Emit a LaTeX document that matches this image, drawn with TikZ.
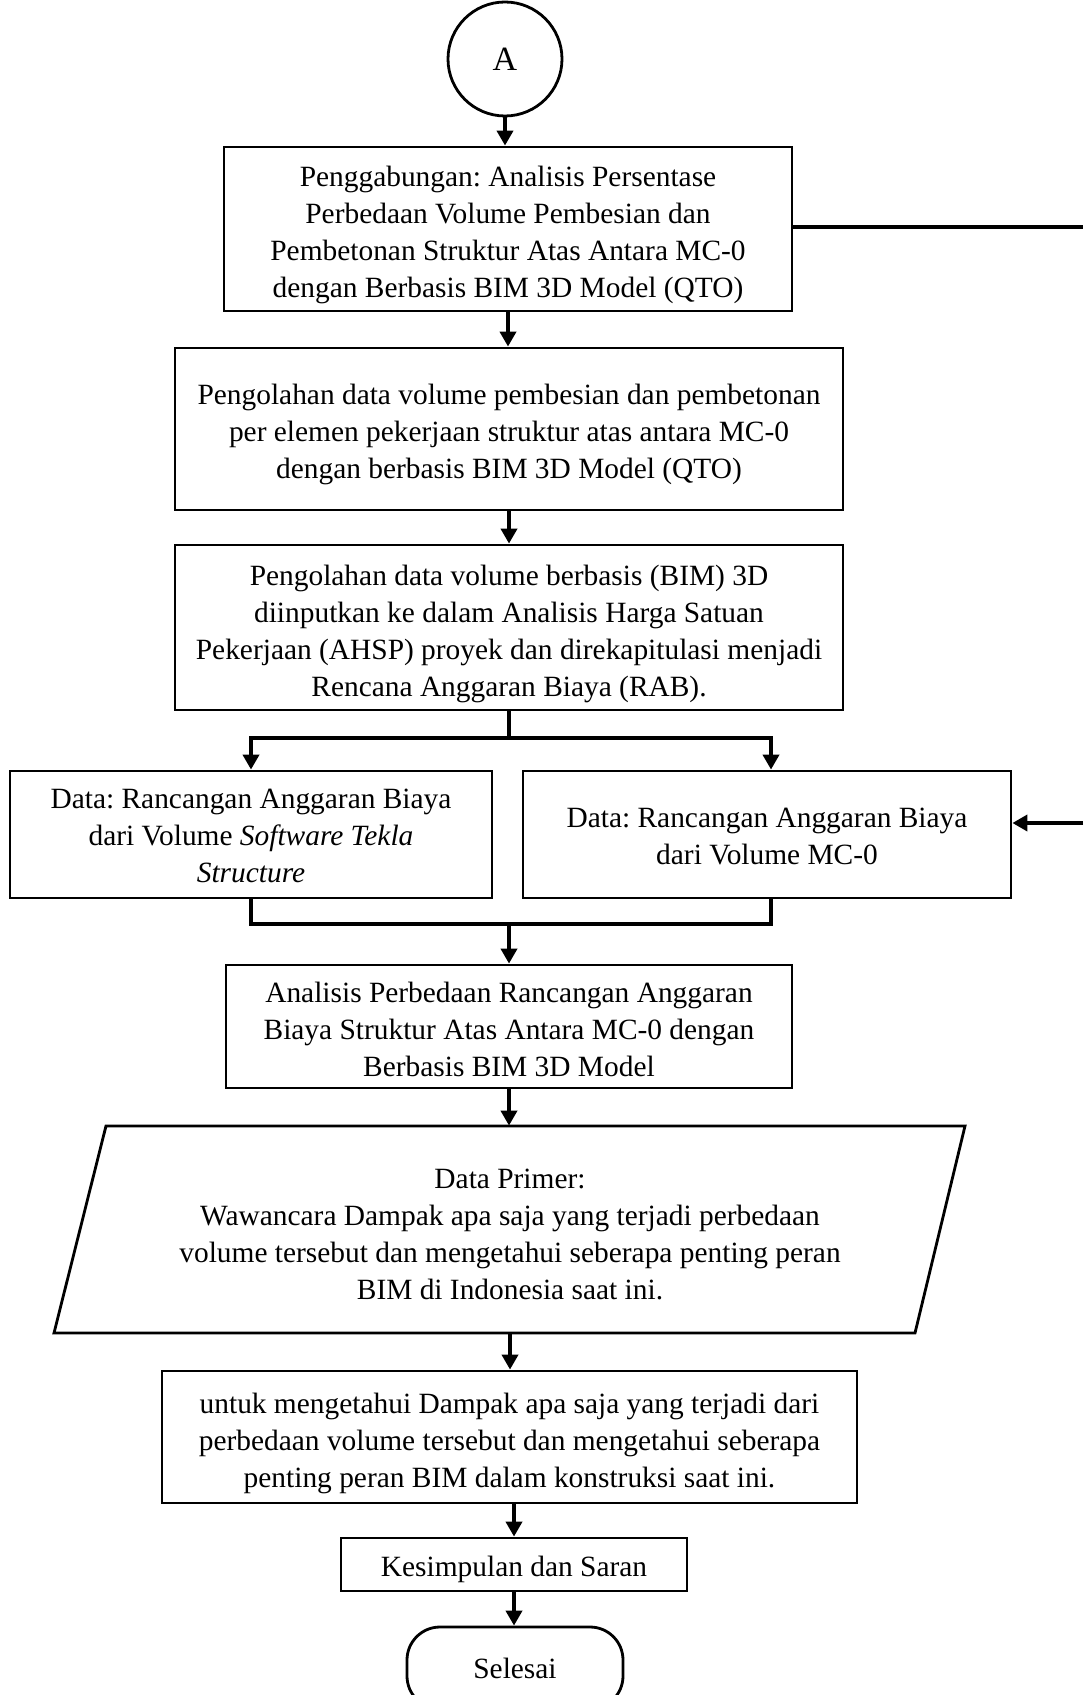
\documentclass[tikz,border=0pt]{standalone}
\usepackage{fontspec}
\setmainfont{Liberation Serif}
\usetikzlibrary{arrows.meta}
\frenchspacing
% centred block of lines, set a little below the middle of its box
\newcommand\lowtext[2][2.8pt]{\raisebox{-#1}[\height][\depth]{\begin{tabular}{@{}c@{}}#2\end{tabular}}}
\begin{document}
\begin{tikzpicture}[x=0.5pt,y=-0.5pt,
  every node/.style={font=\fontsize{14.7}{18.5}\selectfont, inner sep=0pt},
  box/.style={draw, line width=1.4pt, rectangle},
  conn/.style={line width=1.9pt},
  arr/.style={conn, -{Triangle[length=7.5pt,width=8pt]}},
]
\useasboundingbox (0,0) rectangle (1083,1695);
\clip (0,0) rectangle (1083,1695);

% connector circle
\node[draw, circle, line width=1.4pt, minimum size=57pt, font=\fontsize{17}{20}\selectfont] (A) at (505,59) {A};

% process boxes
\node[box, minimum width=284pt, minimum height=82pt] (b1) at (508,229)
  {\lowtext{Penggabungan: Analisis Persentase\\Perbedaan Volume Pembesian dan\\Pembetonan Struktur Atas Antara MC-0\\dengan Berbasis BIM 3D Model (QTO)}};
\node[box, minimum width=334pt, minimum height=81pt] (b2) at (509,429)
  {\lowtext{Pengolahan data volume pembesian dan pembetonan\\per elemen pekerjaan struktur atas antara MC-0\\dengan berbasis BIM 3D Model (QTO)}};
\node[box, minimum width=334pt, minimum height=82.5pt] (b3) at (509,627.5)
  {\lowtext{Pengolahan data volume berbasis (BIM) 3D\\diinputkan ke dalam Analisis Harga Satuan\\Pekerjaan (AHSP) proyek dan direkapitulasi menjadi\\Rencana Anggaran Biaya (RAB).}};
\node[box, minimum width=241pt, minimum height=63.5pt] (b4) at (251,834.5)
  {\lowtext[1.8pt]{Data: Rancangan Anggaran Biaya\\dari Volume \textit{Software Tekla}\\\textit{Structure}}};
\node[box, minimum width=244pt, minimum height=63.5pt] (b5) at (767,834.5)
  {\lowtext[1.8pt]{Data: Rancangan Anggaran Biaya\\dari Volume MC-0}};
\node[box, minimum width=283pt, minimum height=61.5pt] (b6) at (509,1026.5)
  {\lowtext{Analisis Perbedaan Rancangan Anggaran\\Biaya Struktur Atas Antara MC-0 dengan\\Berbasis BIM 3D Model}};

% input / output parallelogram
\draw[line width=1.4pt] (106,1126) -- (965,1126) -- (915,1333) -- (54,1333) -- cycle;
\node[minimum width=430pt, minimum height=103.5pt] (para) at (510,1229.5)
  {\lowtext[3.5pt]{Data Primer:\\Wawancara Dampak apa saja yang terjadi perbedaan\\volume tersebut dan mengetahui seberapa penting peran\\BIM di Indonesia saat ini.}};

\node[box, minimum width=347.5pt, minimum height=66pt] (b7) at (509.5,1437)
  {\lowtext{untuk mengetahui Dampak apa saja yang terjadi dari\\perbedaan volume tersebut dan mengetahui seberapa\\penting peran BIM dalam konstruksi saat ini.}};
\node[box, minimum width=173pt, minimum height=26.5pt] (b8) at (514,1564.5)
  {\lowtext[2.5pt]{Kesimpulan dan Saran}};

% terminal
\node[draw, rounded corners=16.5pt, line width=1.4pt, minimum width=108pt, minimum height=41pt] (T) at (515,1668) {Selesai};

% flow connectors
\draw[arr] (A.south) -- (A.south |- b1.north);
\draw[arr] (b1.south) -- (b1.south |- b2.north);
\draw[arr] (b2.south) -- (b2.south |- b3.north);

\coordinate (s) at (509,738);
\coordinate (sL) at (251,738);
\coordinate (sR) at (771,738);
\draw[conn] (b3.south) -- (s);
\draw[arr] (s) -| (sL |- b4.north);
\draw[arr] (s) -| (sR |- b5.north);

\coordinate (mL) at (251,924);
\coordinate (mR) at (771,924);
\coordinate (m) at (509,924);
\draw[conn] (mL |- b4.south) -- (mL) -- (mR) -- (mR |- b5.south);
\draw[arr] (m) -- (m |- b6.north);

\draw[arr] (b6.south) -- (b6.south |- para.north);
\draw[arr] (para.south) -- (para.south |- b7.north);
\draw[arr] (b8.north |- b7.south) -- (b8.north);
\draw[arr] (b8.south) -- (b8.south |- T.north);

% links leaving / entering at the page edge
\coordinate (eR1) at (1083,227);
\coordinate (eR2) at (1083,823);
\draw[conn] (b1.east |- eR1) -- (eR1);
\draw[arr] (eR2) -- (eR2 -| b5.east);
\end{tikzpicture}
\end{document}
